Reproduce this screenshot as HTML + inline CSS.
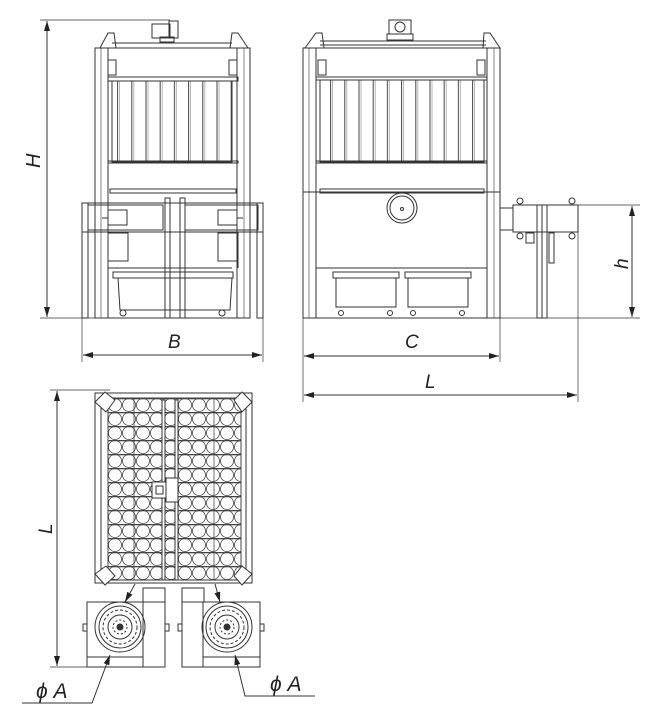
<!DOCTYPE html>
<html><head><meta charset="utf-8"><style>
html,body{margin:0;padding:0;background:#fff;width:657px;height:725px;overflow:hidden}
svg{display:block}
text{font-family:"Liberation Sans",sans-serif;font-style:italic;fill:#222}
</style></head><body>
<svg width="657" height="725" viewBox="0 0 657 725" xmlns="http://www.w3.org/2000/svg">
<defs>
<marker id="ar" viewBox="0 0 10 6" refX="10" refY="3" markerWidth="10" markerHeight="6" orient="auto-start-reverse" markerUnits="userSpaceOnUse"><path d="M0,0 L10,3 L0,6 Z" fill="#222"/></marker>
<pattern id="cells" x="108" y="398" width="14" height="14" patternUnits="userSpaceOnUse">
<rect width="14" height="14" fill="#fff"/>
<circle cx="7" cy="7" r="6.5" fill="none" stroke="#444" stroke-width="0.8"/>
<line x1="0" y1="0.5" x2="14" y2="0.5" stroke="#444" stroke-width="1.6"/>
</pattern>
<pattern id="slats" x="0" y="0" width="14.2" height="10" patternUnits="userSpaceOnUse"><line x1="4" y1="0" x2="4" y2="10" stroke="#444"/><line x1="6" y1="0" x2="6" y2="10" stroke="#888" stroke-width="0.6"/></pattern>
</defs>
<g fill="none" stroke="#333" stroke-width="1">
<!-- ===== LEFT VIEW ===== -->
<line x1="40" y1="20" x2="170" y2="20" stroke-width="0.7"/>
<line x1="40" y1="318" x2="95" y2="318" stroke-width="0.7"/>
<line x1="47" y1="21" x2="47" y2="317" marker-start="url(#ar)" marker-end="url(#ar)"/>
<rect x="152" y="24" width="18" height="14"/><rect x="169" y="21" width="9" height="17"/><rect x="160" y="37" width="14" height="5"/>
<path d="M100,48 L108,33 L114,33 L116,48 Z"/><path d="M230,48 L232,33 L238,33 L248,48 Z"/>
<line x1="112" y1="43" x2="232" y2="43"/>
<rect x="95" y="48" width="155" height="270"/>
<rect x="95" y="48" width="13" height="270"/><rect x="237" y="48" width="13" height="270"/>
<line x1="101" y1="48" x2="101" y2="318" stroke-width="0.6"/><line x1="244" y1="48" x2="244" y2="318" stroke-width="0.6"/>
<rect x="108" y="60" width="8" height="15"/><rect x="229" y="60" width="8" height="15"/>
<rect x="108" y="77" width="130" height="4"/>
<rect x="112" y="81" width="120" height="81" fill="url(#slats)"/>
<rect x="108" y="161" width="130" height="2"/>
<rect x="110" y="189" width="126" height="4"/>
<rect x="82" y="203" width="181" height="29"/>
<rect x="88" y="205" width="75" height="25"/><rect x="185" y="205" width="73" height="25"/>
<rect x="108" y="210" width="19" height="15"/><rect x="218" y="210" width="19" height="15"/>
<line x1="102" y1="218" x2="108" y2="218"/><line x1="237" y1="218" x2="243" y2="218"/>
<rect x="82" y="203" width="6" height="115"/><rect x="257" y="203" width="6" height="115"/>
<rect x="165" y="198" width="5" height="120"/><rect x="180" y="198" width="5" height="120"/>
<rect x="108" y="233" width="20" height="28"/><rect x="218" y="233" width="20" height="28"/>
<path d="M108,261 L108,268 L232,268"/><path d="M238,261 L238,268"/>
<rect x="113" y="272" width="120" height="6"/>
<path d="M118,278 L120,310 L230,310 L232,278"/>
<circle cx="123" cy="313" r="3"/><circle cx="222" cy="313" r="3"/>
<line x1="82" y1="318" x2="82" y2="362" stroke-width="0.7"/><line x1="263" y1="318" x2="263" y2="362" stroke-width="0.7"/>
<line x1="83" y1="355" x2="262" y2="355" marker-start="url(#ar)" marker-end="url(#ar)"/>

<!-- ===== RIGHT VIEW ===== -->
<rect x="389" y="20" width="22" height="14"/><circle cx="400" cy="27" r="5"/><rect x="387" y="34" width="26" height="6"/>
<path d="M305,48 L316,33 L322,33 L324,48 Z"/><path d="M483,48 L484,33 L490,33 L500,48 Z"/>
<line x1="320" y1="41" x2="486" y2="41"/><line x1="320" y1="45" x2="486" y2="45"/>
<rect x="303" y="48" width="197" height="270"/>
<rect x="303" y="48" width="13" height="270"/><rect x="487" y="48" width="13" height="270"/>
<line x1="309" y1="48" x2="309" y2="318" stroke-width="0.6"/><line x1="494" y1="48" x2="494" y2="318" stroke-width="0.6"/>
<rect x="318" y="60" width="8" height="15"/><rect x="477" y="60" width="8" height="15"/>
<rect x="316" y="77" width="171" height="3"/>
<rect x="320" y="80" width="164" height="82" fill="url(#slats)"/>
<rect x="316" y="161" width="171" height="2"/>
<line x1="303" y1="192" x2="500" y2="192"/><rect x="320" y="189" width="164" height="4"/>
<circle cx="402" cy="208" r="15"/><circle cx="402" cy="208" r="12"/><circle cx="402" cy="209" r="1.5"/>
<line x1="316" y1="268" x2="487" y2="268"/>
<rect x="336" y="278" width="60" height="29"/><rect x="408" y="278" width="60" height="29"/>
<rect x="333" y="272" width="66" height="6"/><rect x="405" y="272" width="66" height="6"/>
<circle cx="341" cy="313" r="2.5"/><circle cx="390" cy="313" r="2.5"/><circle cx="413" cy="313" r="2.5"/><circle cx="462" cy="313" r="2.5"/>
<rect x="500" y="208" width="13" height="22"/>
<rect x="513" y="205" width="65" height="27"/>
<circle cx="520" cy="201" r="3"/><circle cx="572" cy="201" r="3"/><circle cx="520" cy="236" r="3"/><circle cx="572" cy="236" r="3"/>
<rect x="537" y="205" width="10" height="113"/><line x1="542" y1="205" x2="542" y2="318"/>
<rect x="526" y="233" width="8" height="10"/><rect x="549" y="233" width="5" height="30"/>
<line x1="578" y1="205" x2="640" y2="205" stroke-width="0.7"/><line x1="500" y1="318" x2="640" y2="318" stroke-width="0.7"/>
<line x1="632" y1="206" x2="632" y2="317" marker-start="url(#ar)" marker-end="url(#ar)"/>
<line x1="303" y1="318" x2="303" y2="402" stroke-width="0.7"/><line x1="500" y1="318" x2="500" y2="362" stroke-width="0.7"/>
<line x1="578" y1="232" x2="578" y2="402" stroke-width="0.7"/>
<line x1="304" y1="356" x2="499" y2="356" marker-start="url(#ar)" marker-end="url(#ar)"/>
<line x1="304" y1="395" x2="577" y2="395" marker-start="url(#ar)" marker-end="url(#ar)"/>

<!-- ===== PLAN VIEW ===== -->
<line x1="50" y1="390" x2="110" y2="390" stroke-width="0.7"/><line x1="50" y1="667" x2="90" y2="667" stroke-width="0.7"/>
<line x1="57" y1="391" x2="57" y2="666" marker-start="url(#ar)" marker-end="url(#ar)"/>
<rect x="95" y="393" width="157" height="190"/>
<rect x="101" y="398" width="145" height="180"/>
<rect x="108" y="398" width="133" height="182" fill="url(#cells)" stroke="#444"/>
<line x1="108" y1="580" x2="241" y2="580"/>
<rect x="162" y="400" width="3" height="180" fill="#fff"/><rect x="175" y="400" width="3" height="180" fill="#fff"/>
<line x1="134" y1="398" x2="134" y2="580" stroke-width="0.7"/><line x1="214" y1="398" x2="214" y2="580" stroke-width="0.7"/>
<rect x="152" y="482" width="14" height="16" fill="#fff"/><rect x="166" y="478" width="12" height="24" fill="#fff"/><rect x="156" y="486" width="7" height="8"/>
<path d="M95,402 L105,392 L115,400 L106,412 Z" fill="#fff"/><path d="M242,392 L252,402 L242,412 L234,400 Z" fill="#fff"/>
<path d="M95,574 L106,566 L115,576 L105,585 Z" fill="#fff"/><path d="M234,576 L242,566 L252,574 L242,585 Z" fill="#fff"/>
<rect x="143" y="588" width="22" height="14"/><rect x="182" y="588" width="22" height="14"/>
<rect x="87" y="602" width="78" height="65"/><rect x="182" y="602" width="78" height="65"/>
<line x1="143" y1="602" x2="143" y2="667"/><line x1="203" y1="602" x2="203" y2="667"/>
<line x1="87" y1="657" x2="143" y2="657"/><line x1="203" y1="657" x2="260" y2="657"/>
<rect x="83" y="624" width="4" height="7"/><rect x="165" y="624" width="4" height="7"/><rect x="178" y="624" width="4" height="7"/><rect x="260" y="624" width="4" height="7"/>
<circle cx="120" cy="627" r="25"/><circle cx="120" cy="627" r="21"/><circle cx="120" cy="627" r="17" stroke-dasharray="3 2"/><circle cx="120" cy="627" r="12"/><circle cx="120" cy="627" r="7" stroke-dasharray="2 2"/><circle cx="120" cy="627" r="3" fill="#333"/>
<circle cx="227" cy="627" r="25"/><circle cx="227" cy="627" r="21"/><circle cx="227" cy="627" r="17" stroke-dasharray="3 2"/><circle cx="227" cy="627" r="12"/><circle cx="227" cy="627" r="7" stroke-dasharray="2 2"/><circle cx="227" cy="627" r="3" fill="#333"/>
<line x1="135" y1="584" x2="125" y2="602" marker-end="url(#ar)"/>
<path d="M22,703 L92,703 L110,655" marker-end="url(#ar)"/>
<line x1="215" y1="584" x2="220" y2="602" marker-end="url(#ar)"/>
<path d="M315,696 L245,696 L235,655" marker-end="url(#ar)"/>
</g>
<text x="24" y="168" font-size="20" transform="rotate(-90 32 160)">H</text>
<text x="168" y="348" font-size="19">B</text>
<text x="405" y="348" font-size="19">C</text>
<text x="425" y="388" font-size="19">L</text>
<text x="615" y="268" font-size="19" transform="rotate(-90 622 262)">h</text>
<text x="38" y="536" font-size="19" transform="rotate(-90 44 528)">L</text>
<text x="36" y="698" font-size="21">ϕ A</text>
<text x="270" y="691" font-size="21">ϕ A</text>
</svg>
</body></html>
